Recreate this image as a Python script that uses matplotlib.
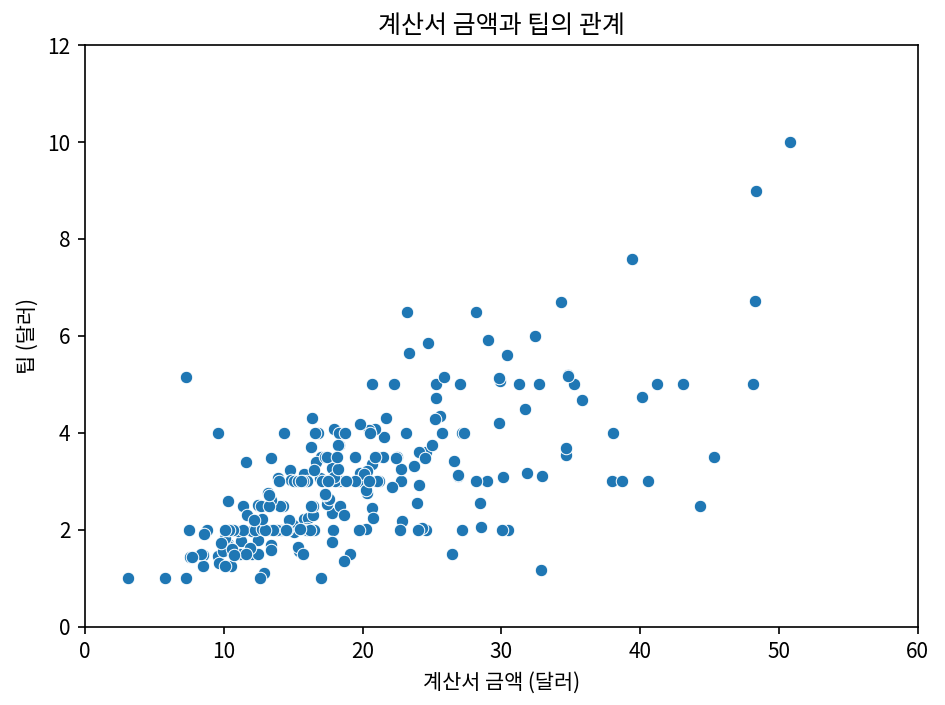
import matplotlib
matplotlib.use("Agg")
import matplotlib.pyplot as plt
import seaborn as sns

total_bill = [16.99,10.34,21.01,23.68,24.59,25.29,8.77,26.88,15.04,14.78,10.27,35.26,15.42,18.43,14.83,21.58,10.33,16.29,16.97,20.65,
17.92,20.29,15.77,39.42,19.82,17.81,13.37,12.69,21.7,19.65,9.55,18.35,15.06,20.69,17.78,24.06,16.31,16.93,18.69,31.27,
16.04,17.46,13.94,9.68,30.4,18.29,22.23,32.4,28.55,18.04,12.54,10.29,34.81,9.94,25.56,19.49,38.01,26.41,11.24,48.27,
20.29,13.81,11.02,18.29,17.59,20.08,16.45,3.07,20.23,15.01,12.02,17.07,26.86,25.28,14.73,10.51,17.92,27.2,22.76,17.29,
19.44,16.66,10.07,32.68,15.98,34.83,13.03,18.28,24.71,21.16,28.97,22.49,5.75,16.32,22.75,40.17,27.28,12.03,21.01,12.46,
11.35,15.38,44.3,22.42,20.92,15.36,20.49,25.21,18.24,14.31,14.0,7.25,38.07,23.95,25.71,17.31,29.93,10.65,12.43,24.08,
11.69,13.42,14.26,15.95,12.48,29.8,8.52,14.52,11.38,22.82,19.08,20.27,11.17,12.26,18.26,8.51,10.33,14.15,16.0,13.16,
17.47,34.3,41.19,27.05,16.43,8.35,18.64,11.87,9.78,7.51,14.07,13.13,17.26,24.55,19.77,29.85,48.17,25.0,13.39,16.49,
21.5,12.66,16.21,13.81,17.51,24.52,20.76,31.71,10.59,10.63,50.81,15.81,7.25,31.85,16.82,32.9,17.89,14.48,9.6,34.63,
34.65,23.33,45.35,23.17,40.55,20.69,20.9,30.46,18.15,23.1,15.69,19.81,28.44,15.48,16.58,7.56,10.34,43.11,13.0,13.51,
18.71,12.74,13.0,16.4,20.53,16.47,26.59,38.73,24.27,12.76,30.06,25.89,48.33,13.27,28.17,12.9,28.15,11.59,7.74,30.14,
12.16,13.42,8.58,15.98,13.42,16.27,10.09,20.45,13.28,22.12,24.01,15.69,11.61,10.77,15.53,10.07,12.6,32.83,35.83,29.03,
27.18,22.67,17.82,18.78]
tip = [1.01,1.66,3.5,3.31,3.61,4.71,2.0,3.12,1.96,3.23,1.71,5.0,1.57,3.0,3.02,3.92,1.67,3.71,3.5,3.35,
4.08,2.75,2.23,7.58,3.18,2.34,2.0,2.0,4.3,3.0,1.45,2.5,3.0,2.45,3.27,3.6,2.0,3.07,2.31,5.0,
2.24,2.54,3.06,1.32,5.6,3.0,5.0,6.0,2.05,3.0,2.5,2.6,5.2,1.56,4.34,3.51,3.0,1.5,1.76,6.73,
3.21,2.0,1.98,3.76,2.64,3.15,2.47,1.0,2.01,2.09,1.97,3.0,3.14,5.0,2.2,1.25,3.08,4.0,3.0,2.71,
3.0,3.4,1.83,5.0,2.03,5.17,2.0,4.0,5.85,3.0,3.0,3.5,1.0,4.3,3.25,4.73,4.0,1.5,3.0,1.5,
2.5,3.0,2.5,3.48,4.08,1.64,4.06,4.29,3.76,4.0,3.0,1.0,4.0,2.55,4.0,3.5,5.07,1.5,1.8,2.92,
2.31,1.68,2.5,2.0,2.52,4.2,1.48,2.0,2.0,2.18,1.5,2.83,1.5,2.0,3.25,1.25,2.0,2.0,2.0,2.75,
3.5,6.7,5.0,5.0,2.3,1.5,1.36,1.63,1.73,2.0,2.5,2.0,2.74,2.0,2.0,5.14,5.0,3.75,2.61,2.0,
3.5,2.5,2.0,2.0,3.0,3.48,2.24,4.5,1.61,2.0,10.0,3.16,5.15,3.18,4.0,3.11,2.0,2.0,4.0,3.55,
3.68,5.65,3.5,6.5,3.0,5.0,3.5,2.0,3.5,4.0,1.5,4.19,2.56,2.02,4.0,1.44,2.0,5.0,2.0,2.0,
4.0,2.01,2.0,2.5,4.0,3.23,3.41,3.0,2.03,2.23,2.0,5.16,9.0,2.5,6.5,1.1,3.0,1.5,1.44,3.09,
2.2,3.48,1.92,3.0,1.58,2.5,2.0,3.0,2.72,2.88,2.0,3.0,3.39,1.47,3.0,1.25,1.0,1.17,4.67,5.92,
2.0,2.0,1.75,3.0]

plt.rcParams['font.family'] = ['Noto Sans CJK KR', 'DejaVu Sans']
fig, ax = plt.subplots(figsize=(6.3, 4.7), dpi=150)
sns.scatterplot(x=total_bill, y=tip, ax=ax)
ax.set_xlim(0, 60)
ax.set_ylim(0, 12)
ax.set_title("계산서 금액과 팁의 관계")
ax.set_xlabel("계산서 금액 (달러)")
ax.set_ylabel("팁 (달러)")
fig.subplots_adjust(left=0.09, right=0.971, top=0.936, bottom=0.111)
fig.savefig("out.png")
